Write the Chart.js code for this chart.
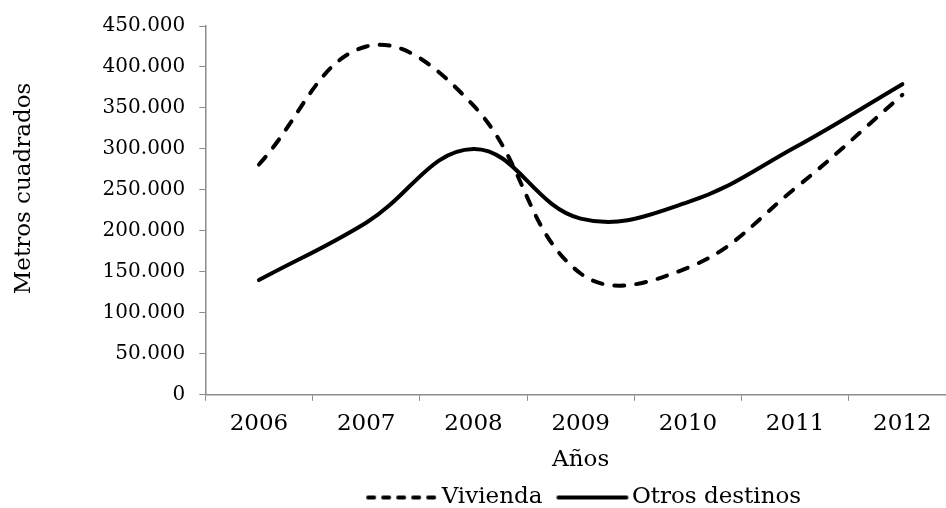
<!DOCTYPE html>
<html>
<head>
<meta charset="utf-8">
<script src="https://cdn.jsdelivr.net/npm/chart.js@4.4.1/dist/chart.umd.min.js"></script>
<style>
    html, body { margin: 0; padding: 0; background: #fff; overflow: hidden; }
    #wrap { width: 956px; height: 508px; position: relative; }
</style>
</head>
<body>
<div id="wrap"><canvas id="chart"></canvas></div>
<script>
const years = ['2006', '2007', '2008', '2009', '2010', '2011', '2012'];
const vivienda = [281000, 425000, 353000, 148000, 155000, 252000, 366000];
const otrosDestinos = [140000, 210000, 300000, 215000, 235000, 302000, 379000];
const yTicks = [0, 50000, 100000, 150000, 200000, 250000, 300000, 350000, 400000, 450000];

const serif = 'DejaVu Serif';
const axisColor = '#8c8c8c';

function fmt(v) {
    return v === 0 ? '0' : v.toLocaleString('de-DE');
}

// legend sample: a short line, drawn a bit to the right so the text sits close to it
function legendLine(dash) {
    const c = document.createElement('canvas');
    c.width = 90;
    c.height = 8;
    const g = c.getContext('2d');
    g.strokeStyle = '#000';
    g.lineWidth = 4;
    g.lineCap = 'round';
    g.setLineDash(dash);
    g.beginPath();
    g.moveTo(18, 4);
    g.lineTo(86, 4);
    g.stroke();
    return c;
}

const ctx = document.getElementById('chart');
new Chart(ctx, {
    type: 'line',
    data: {
        labels: years,
        datasets: [
            {
                label: 'Vivienda', data: vivienda, borderColor: '#000', backgroundColor: '#000',
                borderWidth: 4, borderDash: [10, 12], borderCapStyle: 'round',
                pointRadius: 0, tension: 0.4, pointStyle: legendLine([6, 9])
            },
            {
                label: 'Otros destinos', data: otrosDestinos, borderColor: '#000', backgroundColor: '#000',
                borderWidth: 4, borderCapStyle: 'round',
                pointRadius: 0, tension: 0.4, pointStyle: legendLine([])
            }
        ]
    },
    options: {
        responsive: true,
        maintainAspectRatio: false,
        animation: false,
        layout: { padding: { left: 6, top: 16, right: 0, bottom: -11 } },
        plugins: {
            tooltip: { enabled: false },
            legend: {
                position: 'bottom',
                fullSize: false,
                labels: {
                    usePointStyle: true, pointStyleWidth: 70, boxHeight: 20,
                    color: '#000', padding: 8, font: { family: serif, size: 23 }
                }
            }
        },
        scales: {
            x: {
                offset: true,
                grid: { offset: true, drawOnChartArea: false, drawTicks: true, tickLength: 6, color: axisColor },
                border: { display: true, color: axisColor, width: 1.5 },
                ticks: { color: '#000', padding: 9, font: { family: serif, size: 23 } },
                title: { display: true, text: 'Años', color: '#000', padding: { top: 0, bottom: 4 }, font: { family: serif, size: 23 } }
            },
            y: {
                min: 0, max: 450000,
                afterBuildTicks: axis => { axis.ticks = yTicks.map(v => ({ value: v })); },
                grid: { drawOnChartArea: false, drawTicks: true, tickLength: 6, color: axisColor },
                border: { display: true, color: axisColor, width: 1.5 },
                ticks: { color: '#000', padding: 14, font: { family: serif, size: 20 }, callback: v => fmt(v) },
                title: { display: true, text: '      Metros cuadrados', color: '#000', padding: { top: 4, bottom: 51 }, font: { family: serif, size: 23 } }
            }
        }
    }
});
</script>
</body>
</html>
